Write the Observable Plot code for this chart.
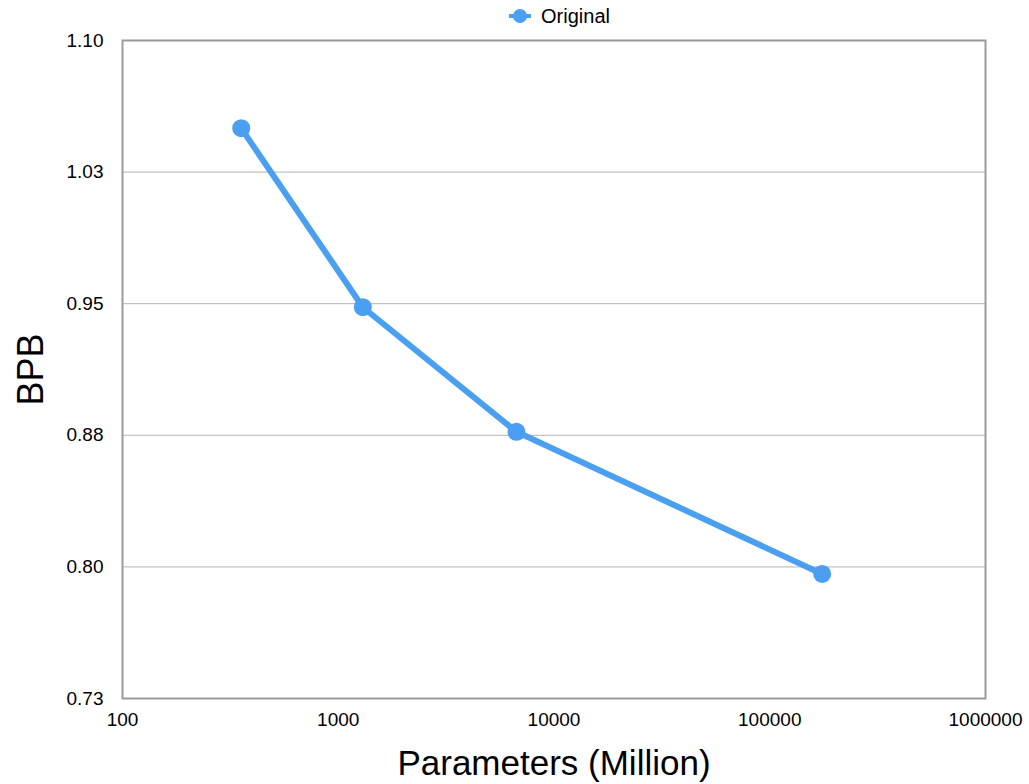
<!DOCTYPE html>
<html>
<head>
<meta charset="utf-8">
<script src="https://cdn.jsdelivr.net/npm/d3@7"></script>
<script src="https://cdn.jsdelivr.net/npm/@observablehq/plot@0.6"></script>
<style>
  body { margin: 0; background: #fff; font-family: "Liberation Sans", Arial, Helvetica, sans-serif; position: relative; }
  #legend {
    position: absolute; top: 0; left: 134px; right: 44px;
    height: 32px; z-index: 1;
    display: flex; align-items: center; justify-content: center;
    font-size: 20px; color: #000;
  }
  #legend svg { margin-right: 10px; }
</style>
</head>
<body>
<div id="chart"></div>
<div id="legend"></div>
<script>
// Model size (millions of parameters) against bits per byte
const seriesName = "Original";
const params = [355, 1300, 6700, 175000];
const bpb = [1.05, 0.948, 0.877, 0.796];

// Axis ticks and the labels printed next to them
const xTicks = [100, 1000, 10000, 100000, 1000000];
const xTickLabels = ["100", "1000", "10000", "100000", "1000000"];
const yTicks = [0.725, 0.8, 0.875, 0.95, 1.025, 1.1];
const yTickLabels = ["0.73", "0.80", "0.88", "0.95", "1.03", "1.10"];

const blue = "#4a9ff0";
const data = params.map((p, i) => ({params: p, bpb: bpb[i]}));

// Legend entry: a short line with a dot, then the series name
document.getElementById("legend").innerHTML =
  `<svg width="22" height="16"><line x1="0" y1="8" x2="22" y2="8" stroke="${blue}" stroke-width="4"/>` +
  `<circle cx="11" cy="8" r="7" fill="${blue}"/></svg><span>${seriesName}</span>`;

const chart = Plot.plot({
  width: 1029,
  height: 784,
  marginTop: 40,
  marginBottom: 86,
  marginLeft: 122,
  marginRight: 44,
  style: {fontFamily: "'Liberation Sans', Arial, Helvetica, sans-serif", background: "#fff", color: "#000"},
  x: {type: "log", domain: [100, 1000000]},
  y: {domain: [0.725, 1.1]},
  marks: [
    Plot.gridY(yTicks, {stroke: "#b3b3b3", strokeOpacity: 1, strokeWidth: 1}),
    Plot.frame({stroke: "#9a9a9a", strokeWidth: 2}),
    Plot.axisY(yTicks, {
      tickSize: 0, tickPadding: 19, fontSize: 19, label: null,
      tickFormat: (d) => yTickLabels[yTicks.indexOf(d)]
    }),
    Plot.axisX(xTicks, {
      tickSize: 0, tickPadding: 14, fontSize: 19, label: null,
      tickFormat: (d) => xTickLabels[xTicks.indexOf(d)]
    }),
    Plot.text(["Parameters (Million)"], {frameAnchor: "bottom", lineAnchor: "bottom", dy: 76, fontSize: 35}),
    Plot.text(["BPB"], {frameAnchor: "left", textAnchor: "middle", lineAnchor: "middle", rotate: -90, dx: -91, fontSize: 36}),
    Plot.line(data, {x: "params", y: "bpb", stroke: blue, strokeWidth: 6, strokeLinejoin: "round"}),
    Plot.dot(data, {x: "params", y: "bpb", r: 9, fill: blue})
  ]
});
document.getElementById("chart").appendChild(chart);
</script>
</body>
</html>
